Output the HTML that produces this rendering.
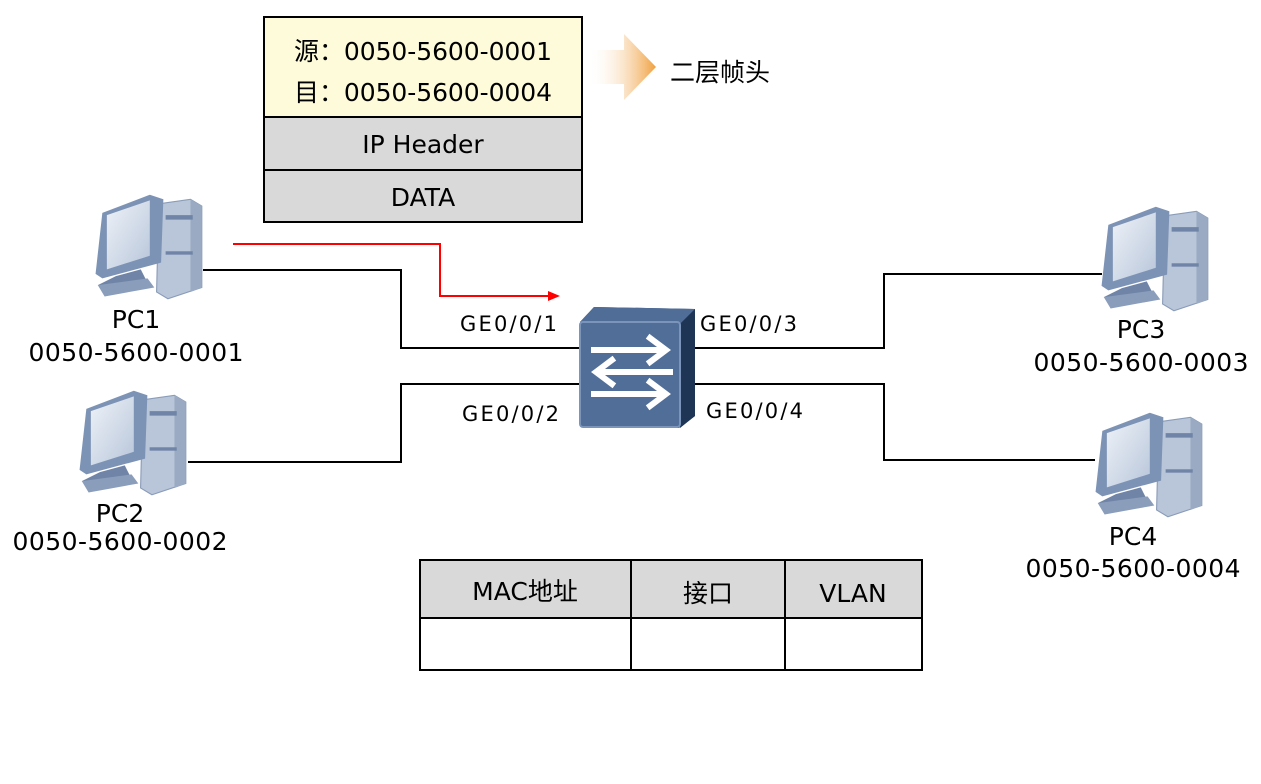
<!DOCTYPE html>
<html><head><meta charset="utf-8"><style>
body{margin:0;background:#fff;}
svg text{font-family:"DejaVu Sans","Noto Sans CJK SC",sans-serif;fill:#000;}
</style></head><body>
<svg width="1261" height="779" viewBox="0 0 1261 779" xmlns="http://www.w3.org/2000/svg">
<defs>
<linearGradient id="og" x1="0" x2="1" y1="0" y2="0"><stop offset="0" stop-color="#fff" stop-opacity="0"/><stop offset="1" stop-color="#f0a040"/></linearGradient>
<linearGradient id="scr" x1="0" y1="0" x2="1" y2="1"><stop offset="0" stop-color="#eef2f8"/><stop offset="1" stop-color="#b8c6da"/></linearGradient>
<g id="pc">
<polygon points="68,14 96,10 106,16 106,88 76,98 66,92" fill="#b9c6d9" stroke="#8a9cb8"/>
<polygon points="96,10 106,16 106,88 96,92" fill="#9aaac2"/>
<rect x="74" y="24" width="24" height="4" fill="#6f84a6"/>
<rect x="74" y="56" width="24" height="3" fill="#6f84a6"/>
<polygon points="18,22 60,6 72,10 70,66 18,80 12,76" fill="#7d93b5"/>
<polygon points="22,24 60,11 60,60 22,72" fill="url(#scr)"/>
<polygon points="30,78 52,72 58,84 20,92 14,86" fill="#6f84a6"/>
<polygon points="14,86 58,80 64,88 20,96" fill="#8a9dbb"/>
</g>
</defs>

<g stroke="#000" stroke-width="2" fill="none">
<polyline points="203,270 401,270 401,348 582,348"/>
<polyline points="188,462 401,462 401,384 582,384"/>
<polyline points="692,348 884,348 884,274 1102,274"/>
<polyline points="692,384 884,384 884,460 1095,460"/>
</g>
<polyline points="233,244 440,244 440,296 550,296" stroke="#f00" stroke-width="2" fill="none"/>
<polygon points="560,296 548,291 548,301" fill="#f00"/>

<use href="#pc" transform="translate(82,188) scale(1.13)"/>
<use href="#pc" transform="translate(66,384) scale(1.13)"/>
<use href="#pc" transform="translate(1088,200) scale(1.13)"/>
<use href="#pc" transform="translate(1082,406) scale(1.13)"/>

<polygon points="580,322 594,307 695,309 695,416 679,428 580,424" fill="#2e4a70"/>
<polygon points="580,322 594,307 695,309 680,324" fill="#4f6d97"/>
<polygon points="680,324 695,309 695,416 680,428" fill="#1e3556"/>
<rect x="580" y="322" width="100" height="105" rx="3" fill="#506e98" stroke="#7b95ba" stroke-width="2"/>
<g stroke="#fff" stroke-width="6" fill="none" stroke-linecap="square">
<line x1="594" y1="350" x2="664" y2="350"/><polyline points="650,338 666,350 650,362"/>
<line x1="600" y1="372" x2="670" y2="372"/><polyline points="612,360 596,372 612,384"/>
<line x1="594" y1="394" x2="664" y2="394"/><polyline points="650,382 666,394 650,406"/>
</g>

<g font-size="25" text-anchor="middle">
<text x="136" y="328">PC1</text><text x="136" y="361" textLength="215">0050-5600-0001</text>
<text x="120" y="522">PC2</text><text x="120" y="550" textLength="215">0050-5600-0002</text>
<text x="1141" y="338">PC3</text><text x="1141" y="371" textLength="215">0050-5600-0003</text>
<text x="1133" y="545">PC4</text><text x="1133" y="577" textLength="215">0050-5600-0004</text>
</g>
<g font-size="21">
<text x="460" y="331" textLength="97">GE0/0/1</text>
<text x="462" y="421" textLength="97">GE0/0/2</text>
<text x="700" y="331" textLength="97">GE0/0/3</text>
<text x="706" y="418" textLength="97">GE0/0/4</text>
</g>

<rect x="264" y="17" width="318" height="100" fill="#fdfbd9" stroke="#000" stroke-width="2"/>
<rect x="264" y="117" width="318" height="53" fill="#d9d9d9" stroke="#000" stroke-width="2"/>
<rect x="264" y="170" width="318" height="52" fill="#d9d9d9" stroke="#000" stroke-width="2"/>
<g font-size="25">
<text x="294" y="60" textLength="258">源：0050-5600-0001</text>
<text x="294" y="101" textLength="258">目：0050-5600-0004</text>
<text x="423" y="153" text-anchor="middle">IP Header</text>
<text x="423" y="206" text-anchor="middle">DATA</text>
</g>
<polygon points="588,50 624,50 624,34 656,67 624,100 624,84 588,84" fill="url(#og)"/>
<text x="670" y="81" font-size="25">二层帧头</text>

<rect x="420" y="560" width="502" height="58" fill="#d9d9d9"/>
<rect x="420" y="618" width="502" height="52" fill="#fff"/>
<g stroke="#000" stroke-width="2" fill="none">
<rect x="420" y="560" width="502" height="110"/>
<line x1="420" y1="618" x2="922" y2="618"/>
<line x1="631" y1="560" x2="631" y2="670"/>
<line x1="785" y1="560" x2="785" y2="670"/>
</g>
<g font-size="25" text-anchor="middle">
<text x="525" y="600">MAC地址</text>
<text x="708" y="602">接口</text>
<text x="853" y="602">VLAN</text>
</g>
</svg>
</body></html>
